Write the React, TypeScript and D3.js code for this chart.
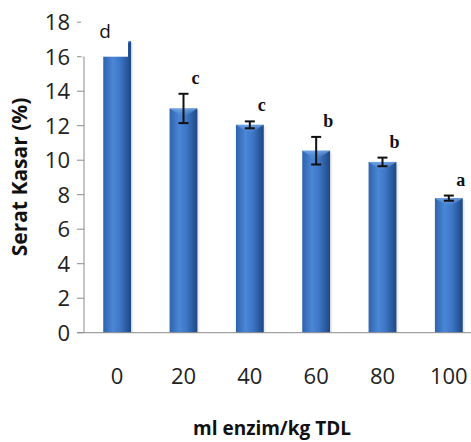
import React from "react";
import * as d3 from "d3";

const categories = ["0", "20", "40", "60", "80", "100"];
const values = [16.9, 13.0, 12.05, 10.55, 9.9, 7.8];
const errors = [0, 0.85, 0.2, 0.8, 0.25, 0.15];
const letters = ["d", "c", "c", "b", "b", "a"];
const yTicks = [0, 2, 4, 6, 8, 10, 12, 14, 16, 18];

const W = 471, H = 442;
const left = 84, right = 482, top = 22.2, bottom = 332.7;

export default function App() {
  const x = d3.scaleBand<string>().domain(categories).range([left, right]).paddingInner(0.58).paddingOuter(0.29);
  const y = d3.scaleLinear().domain([0, 18]).range([bottom, top]);
  const bw = x.bandwidth();
  const font = "'Open Sans', sans-serif";
  return (
    <svg width={W} height={H} style={{ position: "absolute", left: 0, top: 0, background: "#fff" }}>
      <defs>
        <linearGradient id="barg" x1="0" x2="1" y1="0" y2="0">
          <stop offset="0%" stopColor="#2f63ad" />
          <stop offset="35%" stopColor="#4a87d6" />
          <stop offset="60%" stopColor="#3d77c6" />
          <stop offset="100%" stopColor="#1d4784" />
        </linearGradient>
        <linearGradient id="capg" x1="0" x2="0" y1="0" y2="1">
          <stop offset="0%" stopColor="#7fb0ec" />
          <stop offset="100%" stopColor="#4a87d6" stopOpacity="0" />
        </linearGradient>
      </defs>
      {/* y axis */}
      <line x1={left} x2={left} y1={y(18)} y2={bottom} stroke="#8c8c8c" strokeWidth={1} />
      {yTicks.map((t) => (
        <g key={t}>
          <line x1={left - 7} x2={left} y1={y(t)} y2={y(t)} stroke="#8c8c8c" strokeWidth={1} />
          <text x={left - 14} y={y(t)} dy="0.36em" textAnchor="end" fontFamily={font} fontSize={22} fill="#222">{t}</text>
        </g>
      ))}
      {/* bars */}
      {categories.map((c, i) => {
        const x0 = x(c)!;
        const yt = y(values[i]);
        return (
          <g key={c}>
            <rect x={x0 + 2} y={yt + 2} width={bw} height={bottom - yt - 2} fill="#000" opacity={0.08} />
            <rect x={x0} y={yt} width={bw} height={bottom - yt} fill="url(#barg)" />
            <path d={`M${x0},${yt} L${x0 + bw},${yt} L${x0 + bw / 2},${yt + 9} Z`} fill="url(#capg)" opacity={0.8} />
          </g>
        );
      })}
      {/* x axis */}
      <line x1={left - 7} x2={W} y1={bottom} y2={bottom} stroke="#8c8c8c" strokeWidth={1} />
      {/* error bars */}
      {categories.map((c, i) => {
        if (!errors[i]) return null;
        const cx = x(c)! + bw / 2;
        const y1 = y(values[i] + errors[i]);
        const y2 = y(values[i] - errors[i]);
        return (
          <g key={c} stroke="#111" strokeWidth={2}>
            <line x1={cx} x2={cx} y1={y1} y2={y2} />
            <line x1={cx - 5} x2={cx + 5} y1={y1} y2={y1} />
            <line x1={cx - 5} x2={cx + 5} y1={y2} y2={y2} />
          </g>
        );
      })}
      {/* white label box over the first bar */}
      <rect x={81} y={0} width={47} height={y(16)} fill="#fff" />
      {/* letters */}
      {categories.map((c, i) => {
        const cx = x(c)! + bw / 2;
        if (i === 0) {
          return <text key={c} x={cx - 12} y={38} textAnchor="middle" fontFamily={font} fontSize={19} fill="#111">{letters[i]}</text>;
        }
        const ytop = y(values[i] + errors[i]);
        return (
          <text key={c} x={cx + 12} y={ytop - 10} textAnchor="middle" fontFamily="'Liberation Serif', serif" fontWeight="bold" fontSize={18} fill="#111">{letters[i]}</text>
        );
      })}
      {/* x tick labels */}
      {categories.map((c) => (
        <text key={c} x={x(c)! + bw / 2} y={384} textAnchor="middle" fontFamily={font} fontSize={22} fill="#222">{c}</text>
      ))}
      <text x={272} y={435} textAnchor="middle" fontFamily={font} fontWeight="bold" fontSize={19} fill="#111">ml enzim/kg TDL</text>
      <text transform={`translate(27,177) rotate(-90)`} textAnchor="middle" fontFamily={font} fontWeight="bold" fontSize={21} fill="#111">Serat Kasar (%)</text>
    </svg>
  );
}
